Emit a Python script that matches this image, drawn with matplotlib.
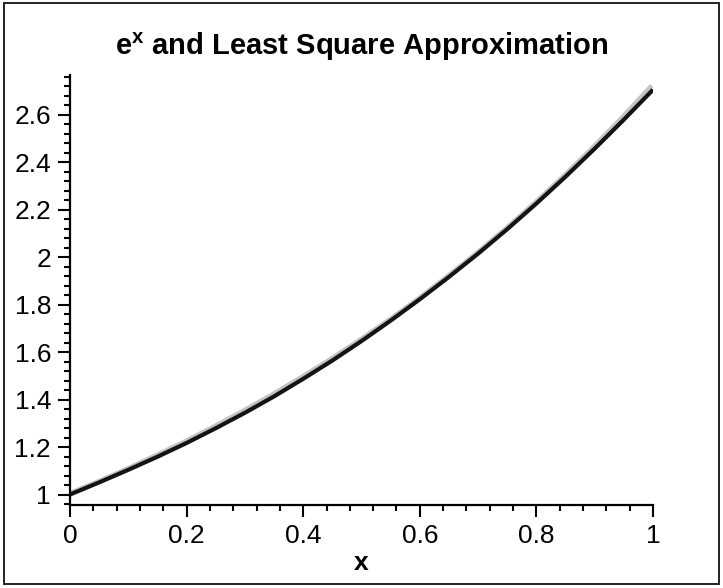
import matplotlib.pyplot as plt
from matplotlib.patches import Rectangle
from matplotlib.ticker import MultipleLocator, FormatStrFormatter
from matplotlib.transforms import offset_copy

plt.rcParams['font.family'] = ['Liberation Sans', 'DejaVu Sans']
plt.rcParams['mathtext.fontset'] = 'custom'
plt.rcParams['mathtext.rm'] = 'Liberation Sans'
plt.rcParams['mathtext.bf'] = 'Liberation Sans:bold'
plt.rcParams['mathtext.it'] = 'Liberation Sans:italic'

# values
x = [0.0, 0.05, 0.1, 0.15, 0.2, 0.25, 0.3, 0.35, 0.4, 0.45, 0.5,
     0.55, 0.6, 0.65, 0.7, 0.75, 0.8, 0.85, 0.9, 0.95, 1.0]
exp_x = [1.000, 1.051, 1.105, 1.162, 1.221, 1.284, 1.350, 1.419, 1.492, 1.568, 1.649,
         1.733, 1.822, 1.916, 2.014, 2.117, 2.226, 2.340, 2.460, 2.586, 2.718]
approx = [1.002, 1.053, 1.106, 1.161, 1.219, 1.281, 1.346, 1.415, 1.489, 1.566, 1.648,
          1.734, 1.824, 1.918, 2.016, 2.119, 2.227, 2.340, 2.458, 2.580, 2.706]

fig = plt.figure(figsize=(7.23, 5.88), dpi=100)
ax = fig.add_axes([0.0968, 0.1412, 0.8064, 0.7313])

# grey e^x curve, shows as a thin light edge above the black approximation
shadow = offset_copy(ax.transData, fig=fig, x=-1.2, y=1.2, units='dots')
ax.plot(x, exp_x, color='#c4c4c4', lw=3.4, solid_capstyle='butt', transform=shadow, zorder=2)
ax.plot(x, approx, color='#141414', lw=3.0, solid_capstyle='butt', zorder=3)

ax.set_xlim(0, 1)
ax.set_ylim(0.958, 2.768)

for s in ['top', 'right']:
    ax.spines[s].set_visible(False)
for s in ['left', 'bottom']:
    ax.spines[s].set_linewidth(1.6)

ax.xaxis.set_major_locator(MultipleLocator(0.2))
ax.xaxis.set_minor_locator(MultipleLocator(0.04))
ax.yaxis.set_major_locator(MultipleLocator(0.2))
ax.yaxis.set_minor_locator(MultipleLocator(0.04))
ax.xaxis.set_major_formatter(FormatStrFormatter('%g'))
ax.yaxis.set_major_formatter(FormatStrFormatter('%g'))

ax.tick_params(which='major', direction='out', length=8.6, width=1.5, labelsize=19, pad=5)
ax.tick_params(which='minor', direction='out', length=4.6, width=1.5)

ax.set_xlabel('x', fontsize=19, fontweight='bold', labelpad=2)
fig.text(0.5, 0.92, r'$\mathbf{e^x}$ and Least Square Approximation',
         ha='center', va='center', fontsize=21, fontweight='bold')

fig.patches.append(Rectangle((0.006, 0.006), 0.988, 0.989, transform=fig.transFigure,
                             fill=False, edgecolor='#222222', lw=1.4))

plt.savefig('out.png', dpi=100)
